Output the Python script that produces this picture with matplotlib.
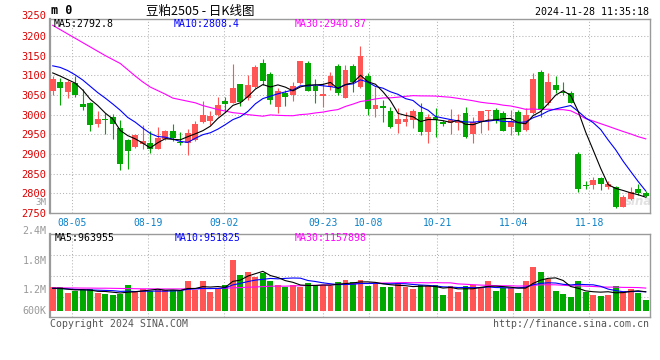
import matplotlib
matplotlib.use('Agg')
import matplotlib.pyplot as plt
import numpy as np
import pandas as pd

# 豆粕2505 日K, 2024-07-31 .. 2024-11-28 (80 sessions)
opens = [3061, 3083, 3058, 3081, 3028, 3030, 2977, 2990, 2994, 2966,
         2936, 2917, 2925, 2927, 2913, 2937, 2958, 2931, 2929, 2936,
         2981, 2984, 2999, 3035, 3030, 3078, 3042, 3071, 3131, 3103,
         3020, 3054, 3050, 3081, 3132, 3073, 3047, 3069, 3124, 3043,
         3124, 3071, 3098, 3015, 3021, 3010, 2977, 2980, 2986, 3006,
         2957, 2995, 2981, 2978, 2978, 3004, 2950, 2980, 3010, 3012,
         3004, 2968, 3006, 2961, 3005, 3108, 3029, 3075, 3058, 3056,
         2900, 2820, 2821, 2838, 2817, 2817, 2766, 2785, 2811, 2802]
highs = [3099, 3092, 3087, 3097, 3065, 3031, 3009, 3004, 3001, 2986,
         2937, 2951, 2974, 2958, 2969, 2961, 2976, 2956, 2964, 2984,
         3034, 3010, 3046, 3044, 3129, 3079, 3101, 3126, 3141, 3108,
         3067, 3063, 3084, 3137, 3135, 3091, 3080, 3109, 3128, 3125,
         3128, 3175, 3107, 3069, 3037, 3019, 3016, 3006, 3015, 3030,
         3001, 3016, 2987, 3014, 3002, 3019, 2995, 3010, 3013, 3018,
         3008, 3012, 3012, 3016, 3107, 3114, 3107, 3097, 3082, 3061,
         2906, 2831, 2842, 2841, 2831, 2819, 2796, 2817, 2823, 2806]
lows = [3051, 3025, 3043, 3046, 3013, 2959, 2969, 2950, 2938, 2859,
        2863, 2914, 2912, 2903, 2913, 2935, 2934, 2924, 2898, 2933,
        2978, 2974, 2997, 3006, 3029, 3021, 3036, 3067, 3075, 3028,
        3005, 3023, 3035, 3079, 3060, 3030, 3020, 3063, 3050, 3042,
        3057, 3068, 2999, 2993, 2980, 2967, 2953, 2971, 2965, 2949,
        2927, 2942, 2970, 2950, 2961, 2941, 2927, 2954, 2961, 2978,
        2958, 2948, 2948, 2958, 3002, 2995, 3025, 3054, 3050, 3029,
        2804, 2811, 2811, 2808, 2811, 2763, 2764, 2783, 2797, 2790]
closes = [3091, 3068, 3083, 3050, 3020, 2974, 2989, 2987, 2975, 2874,
          2908, 2948, 2933, 2913, 2941, 2959, 2940, 2927, 2953, 2977,
          2999, 2997, 3025, 3028, 3068, 3033, 3075, 3120, 3086, 3037,
          3060, 3046, 3073, 3136, 3061, 3061, 3053, 3098, 3056, 3114,
          3084, 3148, 3015, 3025, 3018, 2969, 2989, 2989, 3008, 2957,
          2995, 2987, 2976, 2987, 2983, 2944, 2982, 3009, 3012, 2987,
          2959, 2984, 2955, 2999, 3090, 3012, 3083, 3063, 3056, 3030,
          2811, 2818, 2834, 2824, 2823, 2764, 2791, 2804, 2800, 2792]
# 成交量（千手）
volumes = [1239, 1239, 994, 1063, 1104, 1157, 994, 966, 912, 940,
           1321, 1076, 1145, 1088, 1117, 1117, 1117, 1063, 1485, 1117,
           1485, 1035, 1170, 1321, 2344, 1730, 1865, 1661, 1800, 1485,
           1321, 1227, 1321, 1252, 1390, 1321, 1321, 1280, 1456, 1526,
           1444, 1526, 1292, 1350, 1239, 1252, 1403, 1227, 1157, 1321,
           1280, 1309, 912, 1280, 1035, 1292, 1321, 1186, 1485, 1088,
           1198, 1198, 994, 1485, 2057, 1865, 1566, 1088, 953, 830,
           1497, 1035, 912, 871, 912, 1280, 1076, 1157, 994, 708]

# moving averages before enough history is on screen
ma5_head = [3106, 3098, 3089, 3080]
ma10_head = [3124, 3120, 3112, 3101, 3088, 3072, 3056, 3042, 3027]
ma30_head = [3227, 3216, 3205, 3194, 3183, 3172, 3161, 3150, 3140, 3130,
             3114, 3098, 3083, 3070, 3061, 3052, 3042, 3038, 3034, 3030,
             3023, 3018, 3013, 3009, 3005, 3003, 3000, 2998, 2996]
vma5_head = [1190, 1185, 1150, 1120]
vma10_head = [1180, 1175, 1160, 1140, 1130, 1120, 1110, 1100, 1090]
vma30_head = [1205, 1205, 1200, 1200, 1195, 1195, 1190, 1190, 1185, 1180,
              1175, 1170, 1165, 1165, 1160, 1160, 1160, 1160, 1165, 1165,
              1170, 1175, 1180, 1190, 1205, 1215, 1230, 1240, 1255]

tick_idx = [3, 13, 23, 36, 42, 51, 61, 71]
tick_lbl = ['08-05', '08-19', '09-02', '09-23', '10-08', '10-21', '11-04', '11-18']
price_ticks = [2750, 2800, 2850, 2900, 2950, 3000, 3050, 3100, 3150, 3200, 3250]
vol_lbl = ['2.4M', '1.8M', '1.2M', '600K']
ma_price_txt = ['MA5:2792.8', 'MA10:2808.4', 'MA30:2940.87']
ma_vol_txt = ['MA5:963955', 'MA10:951825', 'MA30:1157898']

RED = '#ff5555'
GREEN = '#00a800'
FRAME = '#9a9a9a'
GRID = '#b4b4b4'
MONO = ['DejaVu Sans Mono']

plt.rcParams['font.family'] = MONO

W, H = 660, 360
fig = plt.figure(figsize=(6.6, 3.6), dpi=100)


def fx(x):
    return x / W


def fy(y):
    return 1 - y / H


ax = fig.add_axes([fx(50), fy(213), (650 - 50) / W, (213 - 19) / H])
axv = fig.add_axes([fx(50), fy(317.3), (650 - 50) / W, (317.3 - 234.3) / H])

x = np.arange(len(closes))
o, hi, lo, c = (np.array(a, dtype=float) for a in (opens, highs, lows, closes))
col = np.where(c >= o, RED, GREEN)

# Sina spreads the date grid over 79 gaps, candles over 80 slots
grid_pos = np.array(tick_idx) * 1.0129 - 0.43

for a in (ax, axv):
    a.set_xlim(-0.36, 79.57)
    a.set_xticks(grid_pos)
    a.tick_params(length=0)
    a.grid(True, color=GRID, lw=0.75, ls=(0, (1, 2)))
    a.set_axisbelow(True)
    for s in a.spines.values():
        s.set_color(FRAME)
        s.set_linewidth(1.0)
    a.spines['left'].set_linewidth(1.6)

# ---- price panel ----
ax.set_ylim(2750, 3243)
ax.vlines(x, lo, hi, colors=col, lw=0.8, zorder=3)
ax.bar(x, np.maximum(np.abs(c - o), 2.5), bottom=np.minimum(o, c),
       width=0.78, color=col, lw=0, zorder=4)

cs = pd.Series(c)
ma5 = cs.rolling(5).mean().to_numpy()
ma5[:4] = ma5_head
ma10 = cs.rolling(10).mean().to_numpy()
ma10[:9] = ma10_head
ma30 = cs.rolling(30).mean().to_numpy()
ma30[:29] = ma30_head
ax.plot(x, ma30, color='#ff00ff', lw=0.8, zorder=5)
ax.plot(x, ma10, color='#0000ff', lw=0.8, zorder=5)
ax.plot(x, ma5, color='black', lw=0.8, zorder=5)

ax.set_yticks(price_ticks[:-1])
ax.set_yticklabels([str(p) for p in price_ticks[:-1]], color='#dd0000', fontsize=7.5)
ax.tick_params(axis='y', pad=2.4)
ax.text(-0.0055, price_ticks[-1], str(price_ticks[-1]), transform=ax.get_yaxis_transform(),
        ha='right', va='center', color='#dd0000', fontsize=7.5, clip_on=False)
ax.set_xticklabels(tick_lbl, color='#0a80c8', fontsize=7)
ax.tick_params(axis='x', pad=3.5)

ax.text(0.958, 0.06, 'sina', transform=ax.transAxes, fontsize=8.5, color='#e2e2e2',
        style='italic', fontweight='bold', family=['DejaVu Sans'], va='center', zorder=1)

for txt, xp, cc in zip(ma_price_txt, [54, 174, 295], ['black', '#0000ff', '#ff00ff']):
    fig.text(fx(xp), fy(24), txt, color=cc, fontsize=7.1, va='center', ha='left')

# ---- volume panel ----
VOL_TOP = 3395e3
VOL_BASE = 270e3
v = np.array(volumes, dtype=float) * 1000
axv.set_ylim(0, VOL_TOP)
axv.bar(x, v - VOL_BASE, bottom=VOL_BASE, width=0.78, color=col, lw=0, zorder=3)
vs = pd.Series(v)
vma5 = vs.rolling(5).mean().to_numpy()
vma5[:4] = np.array(vma5_head) * 1000
vma10 = vs.rolling(10).mean().to_numpy()
vma10[:9] = np.array(vma10_head) * 1000
vma30 = vs.rolling(30).mean().to_numpy()
vma30[:29] = np.array(vma30_head) * 1000
axv.plot(x, vma30, color='#ff00ff', lw=0.8, zorder=5)
axv.plot(x, vma10, color='#0000ff', lw=0.8, zorder=5)
axv.plot(x, vma5, color='black', lw=0.8, zorder=5)
axv.set_yticks(np.array([0.25, 0.5, 0.75]) * VOL_TOP)
axv.set_yticklabels([])
axv.set_xticklabels([])

for lbl, yp in zip(vol_lbl, [230.7, 260.7, 290, 310.7]):
    fig.text(fx(46.7), fy(yp), lbl, color='#999999', fontsize=7.2, ha='right', va='center')
fig.text(fx(46.7), fy(202.5), '3M', color='#999999', fontsize=6.6, ha='right', va='center')

for txt, xp, cc in zip(ma_vol_txt, [55, 175, 295], ['black', '#0000ff', '#ff00ff']):
    fig.text(fx(xp), fy(238.3), txt, color=cc, fontsize=7.1, va='center', ha='left')

# ---- header / footer ----
fig.text(fx(51), fy(11), 'm 0', fontsize=8.5, fontweight='bold', va='center', ha='left')
fig.text(fx(200), fy(11), '豆粕2505 - 日K线图', family=['Noto Sans CJK SC', 'DejaVu Sans'],
         fontsize=9, va='center', ha='center')
fig.text(fx(649), fy(12), '2024-11-28 11:35:18', fontsize=7.2, va='center', ha='right')
fig.text(fx(50), fy(324), 'Copyright 2024 SINA.COM', fontsize=7.1, color='#555555',
         va='center', ha='left')
fig.text(fx(649), fy(324), 'http://finance.sina.com.cn', fontsize=7.1, color='#555555',
         va='center', ha='right')

fig.savefig('out.png', dpi=100, facecolor='white')
